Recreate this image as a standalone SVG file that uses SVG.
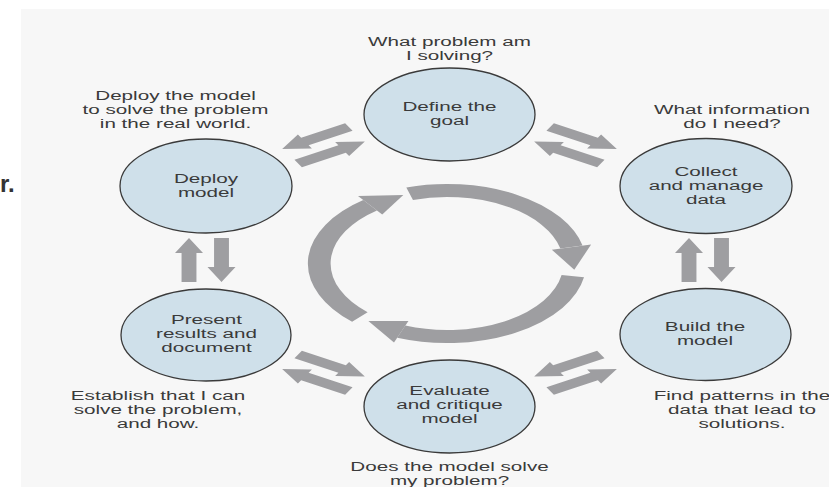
<svg xmlns="http://www.w3.org/2000/svg" xmlns:xlink="http://www.w3.org/1999/xlink" width="829" height="487" viewBox="0 0 829 487">
<style>
.node{fill:#cfe0ea;stroke:#3a3a3a;stroke-width:1.3}
.t{font-family:"Liberation Sans",Arial,sans-serif;font-size:12px;fill:#3a3a3a;text-anchor:middle}
.ar{fill:#9e9ea1}
.ring{fill:none;stroke:#9e9ea1;stroke-width:13}
</style>
<defs>
<polygon id="arr" points="-22,-4.25 7,-4.25 7,-8 22,0 7,8 7,4.25 -22,4.25"/>
</defs>
<rect x="0" y="0" width="829" height="487" fill="#ffffff"/>
<rect x="21" y="9" width="808" height="478" fill="#f7f7f7"/>
<text x="0" y="192" style="font-family:'Liberation Sans',Arial,sans-serif;font-size:24px;font-weight:bold;fill:#333">r.</text>

<g id="connectors" class="ar">
<use xlink:href="#arr" transform="translate(315.5,138) scale(1.75,1) rotate(150)"/>
<use xlink:href="#arr" transform="translate(331.5,152.5) scale(1.75,1) rotate(-30)"/>
<use xlink:href="#arr" transform="translate(583.5,138) scale(1.75,1) rotate(30)"/>
<use xlink:href="#arr" transform="translate(567.5,152.5) scale(1.75,1) rotate(210)"/>
<use xlink:href="#arr" transform="translate(315.5,380) scale(1.75,1) rotate(210)"/>
<use xlink:href="#arr" transform="translate(331.5,365.5) scale(1.75,1) rotate(30)"/>
<use xlink:href="#arr" transform="translate(583.5,380) scale(1.75,1) rotate(-30)"/>
<use xlink:href="#arr" transform="translate(567.5,365.5) scale(1.75,1) rotate(150)"/>
<use xlink:href="#arr" transform="translate(189,260) scale(1.75,1) rotate(-90)"/>
<use xlink:href="#arr" transform="translate(221.5,260) scale(1.75,1) rotate(90)"/>
<use xlink:href="#arr" transform="translate(689,260) scale(1.75,1) rotate(-90)"/>
<use xlink:href="#arr" transform="translate(721.5,260) scale(1.75,1) rotate(90)"/>
</g>

<g id="cycle" transform="translate(447,263.5) scale(1.75,1)">
<path class="ring" d="M -21.34,-69.81 A 73 73 0 0 1 71.13,-16.42"/>
<polygon class="ar" points="59.92,-13.84 82.34,-19.01 72.72,6.36"/>
<path class="ring" d="M 71.89,12.68 A 73 73 0 0 1 -26.16,68.15"/>
<polygon class="ar" points="-22.04,57.42 -30.28,78.89 -44.94,57.53"/>
<path class="ring" d="M -49.79,53.39 A 73 73 0 0 1 -43.93,-58.30"/>
<polygon class="ar" points="-37.01,-49.11 -50.85,-67.48 -24.97,-68.60"/>
</g>

<g id="define">
<ellipse class="node" cx="449.5" cy="114.5" rx="85.5" ry="46.5"/>
<g transform="translate(449.5,0) scale(1.72,1)"><text class="t" x="0" y="111">Define the</text><text class="t" x="0" y="125">goal</text></g>
<g transform="translate(449.5,0) scale(1.72,1)"><text class="t" x="0" y="46.5">What problem am</text><text class="t" x="0" y="60.5">I solving?</text></g>
</g>

<g id="deploy">
<ellipse class="node" cx="206" cy="186" rx="86" ry="47"/>
<g transform="translate(206,0) scale(1.72,1)"><text class="t" x="0" y="183">Deploy</text><text class="t" x="0" y="197">model</text></g>
<g transform="translate(175.5,0) scale(1.72,1)"><text class="t" x="0" y="100.5">Deploy the model</text><text class="t" x="0" y="114.5">to solve the problem</text><text class="t" x="0" y="128.5">in the real world.</text></g>
</g>

<g id="collect">
<ellipse class="node" cx="706" cy="186" rx="86" ry="47.5"/>
<g transform="translate(706,0) scale(1.72,1)"><text class="t" x="0" y="176">Collect</text><text class="t" x="0" y="190">and manage</text><text class="t" x="0" y="204">data</text></g>
<g transform="translate(732,0) scale(1.72,1)"><text class="t" x="0" y="114.5">What information</text><text class="t" x="0" y="128.5">do I need?</text></g>
</g>

<g id="present">
<ellipse class="node" cx="206" cy="335" rx="85" ry="46"/>
<g transform="translate(206.5,0) scale(1.72,1)"><text class="t" x="0" y="324">Present</text><text class="t" x="0" y="338">results and</text><text class="t" x="0" y="352">document</text></g>
<g transform="translate(158,0) scale(1.72,1)"><text class="t" x="0" y="400">Establish that I can</text><text class="t" x="0" y="414">solve the problem,</text><text class="t" x="0" y="428">and how.</text></g>
</g>

<g id="build">
<ellipse class="node" cx="705.5" cy="334.5" rx="85.5" ry="46"/>
<g transform="translate(705,0) scale(1.72,1)"><text class="t" x="0" y="331.5">Build the</text><text class="t" x="0" y="345.5">model</text></g>
<g transform="translate(742,0) scale(1.72,1)"><text class="t" x="0" y="400">Find patterns in the</text><text class="t" x="0" y="414">data that lead to</text><text class="t" x="0" y="428">solutions.</text></g>
</g>

<g id="evaluate">
<ellipse class="node" cx="449.5" cy="406.5" rx="85.5" ry="46.5"/>
<g transform="translate(449.5,0) scale(1.72,1)"><text class="t" x="0" y="395">Evaluate</text><text class="t" x="0" y="409">and critique</text><text class="t" x="0" y="423">model</text></g>
<g transform="translate(449.5,0) scale(1.72,1)"><text class="t" x="0" y="471">Does the model solve</text><text class="t" x="0" y="485">my problem?</text></g>
</g>
</svg>
